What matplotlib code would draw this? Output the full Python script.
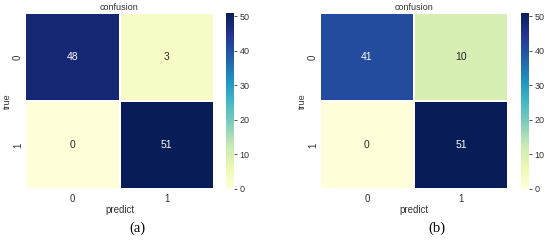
import matplotlib
matplotlib.use("Agg")
import matplotlib.pyplot as plt
import seaborn as sns
import numpy as np

labels = ['0', '1']
cm_a = [[48, 3], [0, 51]]
cm_b = [[41, 10], [0, 51]]
captions = ['(a)', '(b)']
cbar_ticks = [0, 10, 20, 30, 40, 50]

sns.set_theme(style='white')
plt.rcParams['font.family'] = ['Liberation Sans', 'DejaVu Sans']

W, H = 550, 244
fig = plt.figure(figsize=(W / 100, H / 100), dpi=100)


def px_axes(x0, y0, x1, y1):
    return fig.add_axes([x0 / W, 1 - y1 / H, (x1 - x0) / W, (y1 - y0) / H])


def draw_panel(cm, hm_box, cb_box, caption, cap_x):
    ax = px_axes(*hm_box)
    cax = px_axes(*cb_box)
    sns.heatmap(np.array(cm), annot=True, fmt='d', cmap='YlGnBu', ax=ax, cbar_ax=cax,
                linewidths=0.25, linecolor='white',
                annot_kws={'fontsize': 7.5},
                xticklabels=labels, yticklabels=labels)
    ax.set_title('confusion', fontsize=6.5, pad=2, color='#333333')
    ax.set_xlabel('predict', fontsize=7, labelpad=0.5, color='#333333')
    ax.set_ylabel('true', fontsize=6.5, labelpad=1, color='#333333')
    ax.tick_params(axis='x', labelsize=7, length=0, pad=3.5, colors='#333333')
    ax.tick_params(axis='y', labelsize=7, length=0, pad=1.5, colors='#333333')
    for t in ax.get_yticklabels():
        t.set_rotation(90)
        t.set_va('center')
    cax.set_yticks(cbar_ticks)
    cax.tick_params(labelsize=6.5, length=2.5, width=0.6, pad=1.5, colors='#333333',
                    right=True)
    for s in cax.spines.values():
        s.set_visible(False)
    fig.text(cap_x / W, 1 - 228 / H, caption, ha='center', va='center',
             fontsize=10.5, family='Liberation Serif', color='black')


draw_panel(cm_a, (25, 13, 214, 189), (226, 13, 234, 189), captions[0], 137)
draw_panel(cm_b, (320, 13, 508, 189), (521, 13, 529, 189), captions[1], 437)

fig.savefig('out.png', dpi=100)
